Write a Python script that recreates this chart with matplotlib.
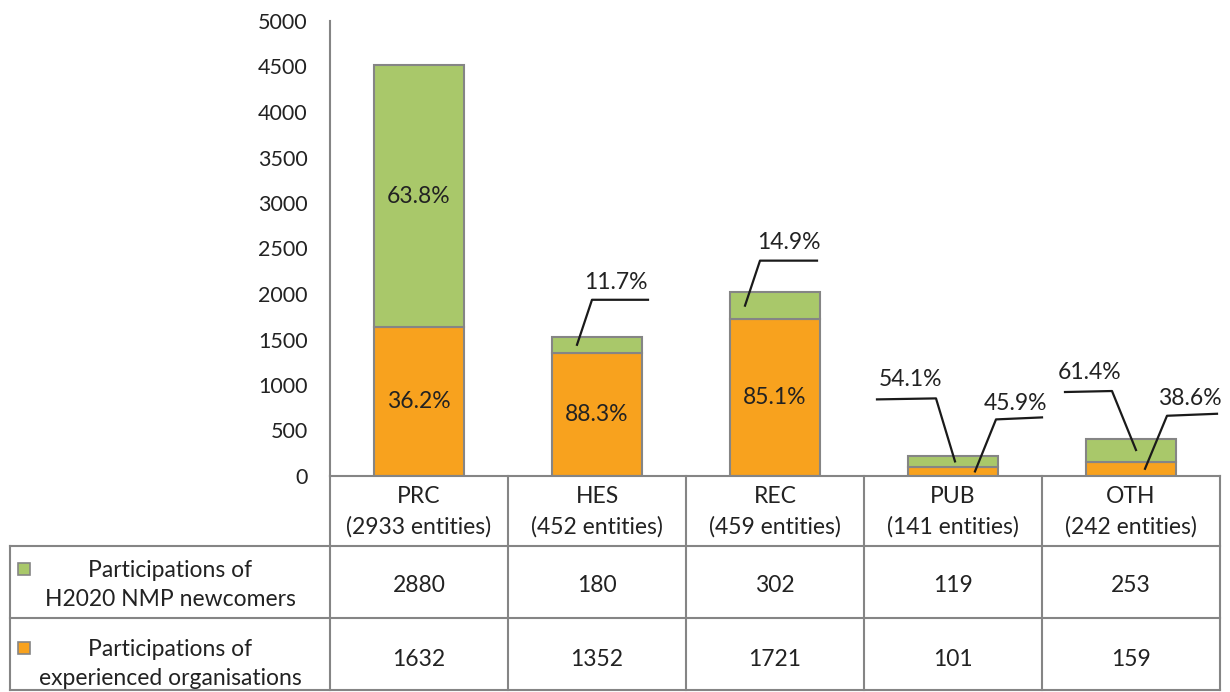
import numpy as np
import matplotlib
matplotlib.use("Agg")
import matplotlib.pyplot as plt
from matplotlib.transforms import Affine2D, blended_transform_factory

plt.rcParams["font.family"] = ["Lato", "DejaVu Sans"]

categories = ["PRC", "HES", "REC", "PUB", "OTH"]
entities = [2933, 452, 459, 141, 242]
newcomers = [2880, 180, 302, 119, 253]
experienced = [1632, 1352, 1721, 101, 159]
row_labels = ["Participations of\nH2020 NMP newcomers",
              "Participations of\nexperienced organisations"]

green = "#A9C86A"
orange = "#F8A21E"
edge = "#858585"
txt = "#222222"
fs = 16.5

W, H = 1230, 692
fig = plt.figure(figsize=(W / 100, H / 100), dpi=100)
ax = fig.add_axes([330 / W, (H - 476) / H, 890 / W, 455 / H])

x = np.arange(len(categories))
ax.bar(x, experienced, width=0.51, color=orange, edgecolor=edge, linewidth=1.5, zorder=2)
ax.bar(x, newcomers, bottom=experienced, width=0.51, color=green, edgecolor=edge,
       linewidth=1.5, zorder=2)
ax.set_xlim(-0.5, len(categories) - 0.5)
ax.set_ylim(0, 5000)
ax.set_yticks(np.arange(0, 5001, 500))
ax.set_xticks([])
ax.tick_params(axis="y", length=0, labelsize=15.5, pad=16, labelcolor=txt)
for s in ["top", "right", "bottom"]:
    ax.spines[s].set_visible(False)
ax.spines["left"].set_color(edge)
ax.spines["left"].set_linewidth(1.5)

# pixels per data unit
sx = 890 / len(categories)
sy = 455 / 5000

# leader label layout: (anchor x shift, elbow, end, text) in pixels, y up
leaders = {
    (1, "new"): (-20, (15, 45), (71, 45), (39, 62)),
    (2, "new"): (-30, (15, 45), (72, 45), (44, 63)),
    (3, "new"): (2, (-19, 63), (-78, 62), (-44, 82)),
    (3, "exp"): (22, (21, 52), (67, 54), (40, 68)),
    (4, "new"): (5, (-24, 59), (-71, 58), (-46, 78)),
    (4, "exp"): (14, (22, 53), (72, 55), (45, 70)),
}

for i in range(len(categories)):
    total = newcomers[i] + experienced[i]
    segs = {"exp": (experienced[i] / 2, experienced[i]),
            "new": (experienced[i] + newcomers[i] / 2, newcomers[i])}
    for key, (mid, val) in segs.items():
        label = f"{val / total * 100:.1f}%"
        if (i, key) in leaders:
            shift, elbow, end, tpos = leaders[(i, key)]
            x0 = i + shift / sx
            xs = [x0, x0 + elbow[0] / sx, x0 + end[0] / sx]
            ys = [mid, mid + elbow[1] / sy, mid + end[1] / sy]
            ax.plot(xs, ys, color="#1a1a1a", lw=1.6, zorder=3, clip_on=False)
            ax.text(x0 + tpos[0] / sx, mid + tpos[1] / sy, label, ha="center",
                    va="center", fontsize=fs, color=txt)
        else:
            ax.text(i, mid, label, ha="center", va="center", fontsize=fs, color=txt)

# data table under the axis
pix = Affine2D().scale(1 / W, -1 / H).translate(0, 1) + fig.transFigure
tr = blended_transform_factory(ax.transData, pix)
left = -0.5 - 320 / sx
right = len(categories) - 0.5
rows_y = [476, 546, 618, 690]
line_kw = dict(color=edge, lw=1.5, transform=tr, clip_on=False)

ax.plot([-0.5, right], [476, 476], **line_kw)
for yy in rows_y[1:]:
    ax.plot([left, right], [yy, yy], **line_kw)
for b in np.arange(-0.5, right + 0.01, 1.0):
    ax.plot([b, b], [476, 690], **line_kw)
ax.plot([left, left], [546, 690], **line_kw)

for i, (cat, ent) in enumerate(zip(categories, entities)):
    ax.text(i, 512, f"{cat}\n({ent} entities)", transform=tr, ha="center", va="center",
            fontsize=fs, color=txt, linespacing=1.5)
    ax.text(i, 586, str(newcomers[i]), transform=tr, ha="center", va="center",
            fontsize=fs, color=txt)
    ax.text(i, 660, str(experienced[i]), transform=tr, ha="center", va="center",
            fontsize=fs, color=txt)

mid_label = (left + (-0.5)) / 2
for yy, lab, col in zip([585, 664], row_labels, [green, orange]):
    ax.text(mid_label, yy, lab, transform=tr, ha="center", va="center",
            fontsize=fs, color=txt, linespacing=1.5)
    ax.plot([left + 14 / sx], [yy - 16], marker="s", ms=9, mfc=col, mec=edge, mew=1.2,
            transform=tr, clip_on=False)

fig.savefig("out.png", dpi=100)
